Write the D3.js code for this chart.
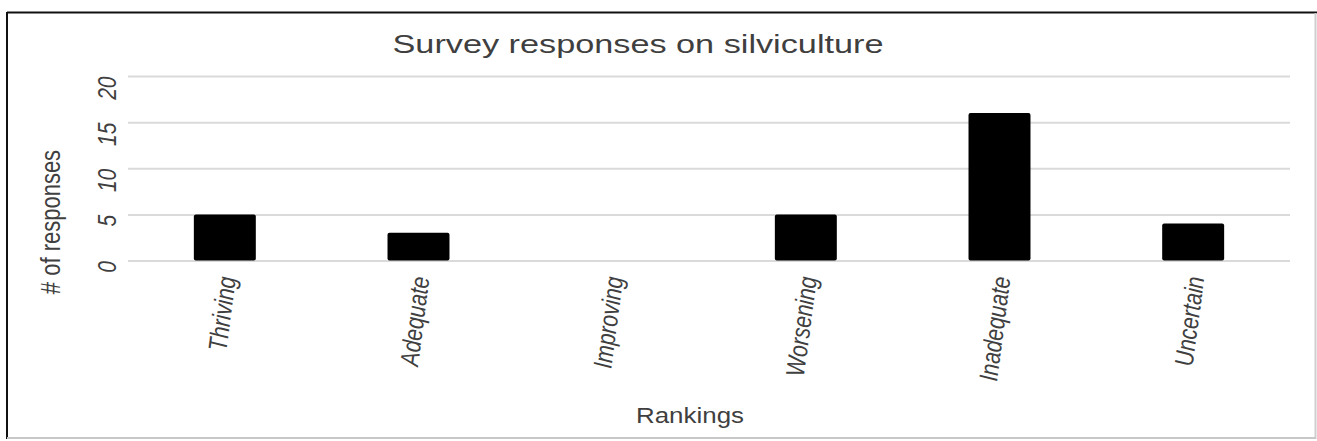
<!DOCTYPE html>
<html>
<head>
<meta charset="utf-8">
<script src="https://cdn.jsdelivr.net/npm/d3@7"></script>
<style>
  body { margin:0; background:#fff; }
  text { font-family: "Helvetica Neue", Helvetica, "Liberation Sans", Arial, sans-serif; fill:#3f3f3f; }
</style>
</head>
<body>
<div id="graph-container"></div>
<script>
const categories = ['Thriving','Adequate','Improving','Worsening','Inadequate','Uncertain']
const responses = [5, 3, 0, 5, 16, 4]
const yTicks = [0, 5, 10, 15, 20]

const main = () => {
  const width = 1317
  const height = 441
  // the picture looks stretched sideways, so text gets the same stretch
  const SX = 1.25
  const plot = { left:128, right:1290, top:76, bottom:260.5 }

  const svg = d3.select('#graph-container')
                .append('svg')
                .attr('width', width)
                .attr('height', height)

  // frame
  svg.append('line').attr('x1',7).attr('x2',width).attr('y1',12.5).attr('y2',12.5)
     .attr('stroke','#111').attr('stroke-width',2)
  svg.append('line').attr('x1',7).attr('x2',7).attr('y1',12).attr('y2',439)
     .attr('stroke','#111').attr('stroke-width',2)
  svg.append('line').attr('x1',1315.5).attr('x2',1315.5).attr('y1',13).attr('y2',439)
     .attr('stroke','#cfcfcf').attr('stroke-width',2)
  svg.append('line').attr('x1',7).attr('x2',1316).attr('y1',438).attr('y2',438)
     .attr('stroke','#c8c8c8').attr('stroke-width',2)

  const xScale = d3.scaleBand()
                   .domain(categories)
                   .range([plot.left, plot.right])
                   .paddingInner(0.68)
                   .paddingOuter(0.34)

  const yScale = d3.scaleLinear()
                   .domain([0, 20])
                   .range([plot.bottom, plot.top])

  // y axis with gridlines
  const yAxis = svg.append('g')
                   .attr('transform', `translate(${plot.left},0)`)
                   .call(d3.axisLeft(yScale)
                           .tickValues(yTicks)
                           .tickSize(-(plot.right - plot.left))
                           .tickPadding(0))
  yAxis.select('.domain').remove()
  yAxis.selectAll('.tick line')
       .attr('stroke','#dadada')
       .attr('stroke-width',2)
  yAxis.selectAll('.tick text')
       .attr('x',0).attr('dy','0.35em')
       .attr('font-size',21)
       .attr('font-style','italic')
       .attr('text-anchor','end')
       .attr('transform',`translate(-21,0) scale(${SX},1) rotate(-90)`)

  // bars
  svg.selectAll('rect.bar')
     .data(responses)
     .join('rect')
     .attr('class','bar')
     .attr('x',(d,i) => xScale(categories[i]))
     .attr('y',d => yScale(d))
     .attr('width',xScale.bandwidth())
     .attr('height',d => yScale(0) - yScale(d))
     .attr('rx',2)
     .attr('fill','#000')

  // x axis labels
  const xAxis = svg.append('g')
                   .attr('transform',`translate(0,${plot.bottom})`)
                   .call(d3.axisBottom(xScale).tickSize(0).tickPadding(0))
  xAxis.select('.domain').remove()
  xAxis.selectAll('.tick text')
       .attr('y',0).attr('dy','0.35em')
       .attr('font-size',21)
       .attr('font-style','italic')
       .attr('text-anchor','end')
       .attr('transform',`translate(2,16) scale(${SX},1) rotate(-84)`)

  // title + axis titles
  svg.append('text')
     .attr('x',638).attr('y',53)
     .attr('text-anchor','middle')
     .attr('font-size',26)
     .attr('textLength',491)
     .attr('lengthAdjust','spacingAndGlyphs')
     .text('Survey responses on silviculture')

  svg.append('text')
     .attr('x',690).attr('y',423)
     .attr('text-anchor','middle')
     .attr('font-size',22)
     .attr('textLength',108)
     .attr('lengthAdjust','spacingAndGlyphs')
     .text('Rankings')

  svg.append('text')
     .attr('dy','0.35em')
     .attr('text-anchor','middle')
     .attr('font-size',22)
     .attr('transform',`translate(50,222) scale(${SX},1) rotate(-90)`)
     .text('# of responses')
}

main()
</script>
</body>
</html>
